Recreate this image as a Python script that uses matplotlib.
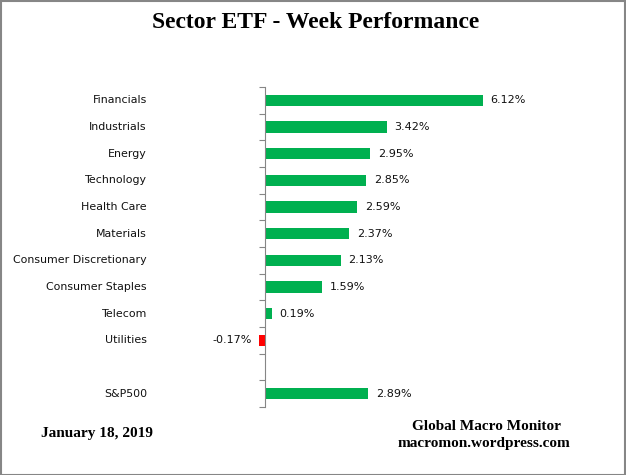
import numpy as np
import matplotlib.pyplot as plt
from matplotlib.patches import Rectangle

sectors = ['Financials', 'Industrials', 'Energy', 'Technology', 'Health Care',
           'Materials', 'Consumer Discretionary', 'Consumer Staples', 'Telecom',
           'Utilities', '', 'S&P500']
returns = [6.12, 3.42, 2.95, 2.85, 2.59, 2.37, 2.13, 1.59, 0.19, -0.17, None, 2.89]
labels = ['6.12%', '3.42%', '2.95%', '2.85%', '2.59%', '2.37%', '2.13%',
          '1.59%', '0.19%', '-0.17%', '', '2.89%']

green = '#00B050'
red = '#FF0000'
grey = '#868686'

W, H = 626, 475
fig = plt.figure(figsize=(W / 100, H / 100), dpi=100)

# plot area: zero line at x=265px, rows from y=87 to y=407
left_px, right_px = 229.5, 549.5
top_px, bot_px = 87, 407
ax = fig.add_axes([left_px / W, 1 - bot_px / H,
                   (right_px - left_px) / W, (bot_px - top_px) / H])

n = len(sectors)
for i, v in enumerate(returns):
    if v is None:
        continue
    ax.barh(i, v, height=0.42, color=green if v >= 0 else red)
    if v >= 0:
        ax.text(v + 0.22, i, labels[i], va='center', ha='left', fontsize=8,
                color='#111111')
    else:
        ax.text(v - 0.2, i, labels[i], va='center', ha='right', fontsize=8,
                color='#111111')

ax.set_xlim(-1, 8)
ax.set_ylim(n - 0.5, -0.5)
for s in ['top', 'right', 'bottom']:
    ax.spines[s].set_visible(False)
ax.spines['left'].set_position(('data', 0))
ax.spines['left'].set_color(grey)
ax.set_xticks([])
ax.set_yticks(np.arange(n + 1) - 0.5)
ax.set_yticklabels([])
ax.tick_params(axis='y', length=4, color=grey, direction='out')

# category names right-aligned in the left margin
for i, name in enumerate(sectors):
    fig.text(147 / W, 1 - (top_px + (i + 0.5) * (bot_px - top_px) / n) / H,
             name, ha='right', va='center', fontsize=7.9, color='#111111')

serif = 'Liberation Serif'
fig.text(316 / W, 1 - 23 / H, 'Sector ETF - Week Performance', ha='center',
         va='center', fontsize=17, fontweight='bold', family=serif)
fig.text(97 / W, 1 - 433 / H, 'January 18, 2019', ha='center', va='center',
         fontsize=11, fontweight='bold', family=serif)
fig.text(486 / W, 1 - 427 / H, 'Global Macro Monitor', ha='center',
         va='center', fontsize=11, fontweight='bold', family=serif)
fig.text(484 / W, 1 - 443 / H, 'macromon.wordpress.com', ha='center',
         va='center', fontsize=11, fontweight='bold', family=serif)

fig.patches.append(Rectangle((0.5 / W, 0.5 / H), 1 - 1.5 / W, 1 - 1.5 / H,
                             transform=fig.transFigure, fill=False,
                             edgecolor=grey, linewidth=1.5))

fig.savefig('out.png', dpi=100)
